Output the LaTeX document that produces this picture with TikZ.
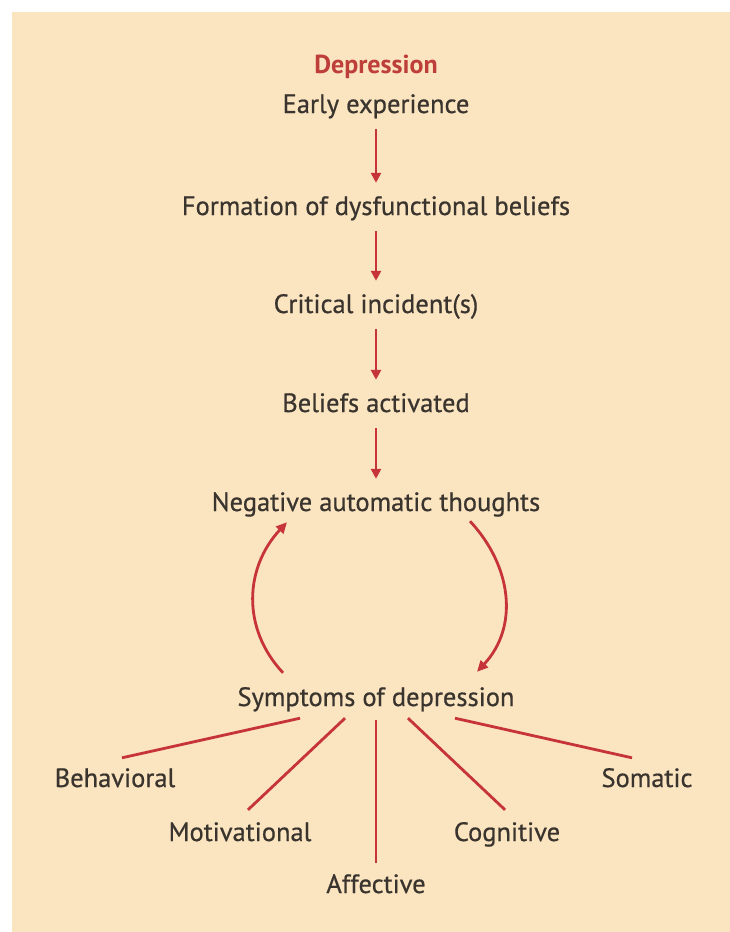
\documentclass[tikz,border=0pt]{standalone}
\usepackage{fontspec}
\setmainfont{PT Sans}
\newfontfamily\termfont{PT Sans}[FakeBold=0.6]
\usetikzlibrary{arrows.meta}
\definecolor{paper}{RGB}{251,228,192}
\definecolor{ink}{RGB}{58,52,46}
\definecolor{flow}{RGB}{198,52,56}
\definecolor{heading}{RGB}{190,62,58}
\begin{document}
\begin{tikzpicture}[x=1pt,y=-1pt,
  term/.style={font=\termfont\fontsize{26.5}{30}\selectfont, text=ink, inner sep=0pt,
    text height=16pt, text depth=5pt, anchor=base},
  flowarrow/.style={draw=flow, line width=2.8pt,
    -{Triangle[width=10pt,length=10pt]}, shorten <=11pt, shorten >=16pt},
  cyclearrow/.style={draw=flow, line width=2.8pt,
    -{Triangle[width=10pt,length=11pt]}},
  spoke/.style={draw=flow, line width=2.8pt}]
  % page and panel
  \useasboundingbox (0,0) rectangle (730,932);
  \fill[white] (0,0) rectangle (730,932);
  \fill[paper] (12,12) rectangle (730,932);

  % causal chain
  \node[term, font=\normalfont\fontsize{26}{30}\selectfont\bfseries, text=heading] (title) at (376,73) {Depression};
  \node[term] (early) at (376,113) {Early experience};
  \node[term] (form)  at (376,215) {Formation of dysfunctional beliefs};
  \node[term] (crit)  at (376,313) {Critical incident(s)};
  \node[term] (act)   at (376,412) {Beliefs activated};
  \node[term] (nat)   at (376,511) {Negative automatic thoughts};
  \node[term] (sym)   at (376,706) {Symptoms of depression};

  \draw[flowarrow] (early) -- (form);
  \draw[flowarrow] (form) -- (crit);
  \draw[flowarrow] (crit) -- (act);
  \draw[flowarrow] (act) -- (nat);

  % vicious circle between thoughts and symptoms
  \draw[cyclearrow] ([xshift=-93pt,yshift=17pt]sym.north)
    .. controls +(-42,-45) and +(-42,45) .. ([xshift=-89pt,yshift=-6pt]nat.south);
  \draw[cyclearrow] ([xshift=94pt,yshift=-5pt]nat.south)
    .. controls +(42,45) and +(42,-45) .. ([xshift=101pt,yshift=18pt]sym.north);

  % kinds of symptoms
  \node[term] (beh) at (115,787) {Behavioral};
  \node[term] (mot) at (240,841) {Motivational};
  \node[term] (aff) at (376,893) {Affective};
  \node[term] (cog) at (507,841) {Cognitive};
  \node[term] (som) at (647,787) {Somatic};

  \draw[spoke] ([xshift=-76pt,yshift=-7pt]sym.south) -- ([xshift=7pt,yshift=13pt]beh.north);
  \draw[spoke] ([xshift=-31pt,yshift=-7pt]sym.south) -- ([xshift=8pt,yshift=15pt]mot.north);
  \draw[spoke] ([yshift=-9pt]sym.south) -- ([yshift=14pt]aff.north);
  \draw[spoke] ([xshift=32pt,yshift=-7pt]sym.south) -- ([xshift=-2pt,yshift=15pt]cog.north);
  \draw[spoke] ([xshift=79pt,yshift=-7pt]sym.south) -- ([xshift=-15pt,yshift=13pt]som.north);
\end{tikzpicture}
\end{document}
